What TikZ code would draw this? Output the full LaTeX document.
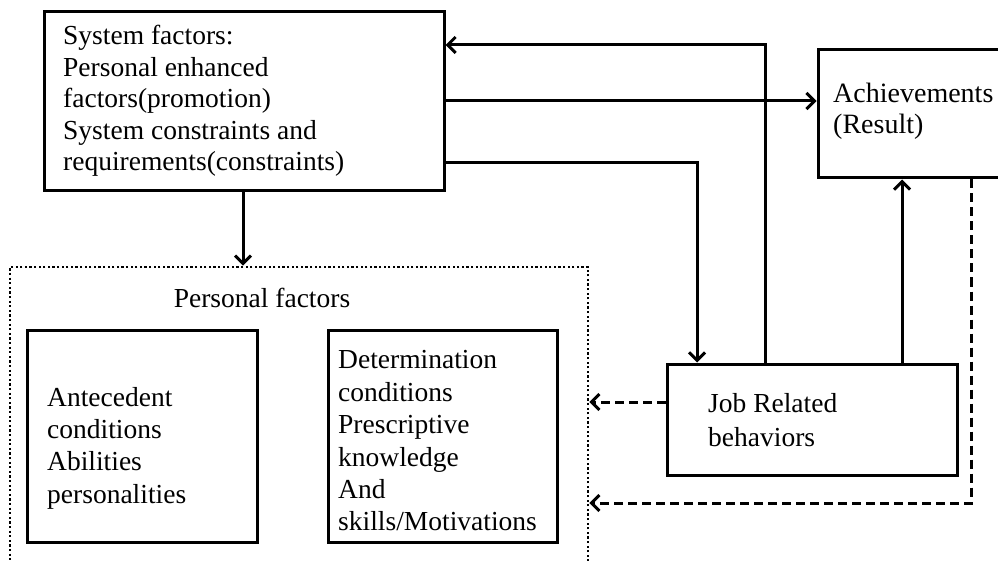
\documentclass[tikz,border=0pt]{standalone}
\usepackage{fontspec}
\setmainfont{Liberation Serif}
\usetikzlibrary{arrows.meta}
\begin{document}
\begin{tikzpicture}[x=1pt,y=-1pt,
  box/.style={draw, line width=3pt, rectangle, inner sep=0pt},
  groupbox/.style={draw, line width=2.6pt, rectangle, inner sep=0pt, dash pattern=on 2.2pt off 2.4pt},
  txt/.style={font=\fontsize{27.5}{31.5}\selectfont, align=left, inner sep=0pt, anchor=west},
  flow/.style={line width=3pt, -{Straight Barb[length=8pt,width=16pt]}},
  back/.style={flow, dash pattern=on 9pt off 5pt}]
\useasboundingbox (0,0) rectangle (998,561);

% boxes
\node[box, minimum width=400pt, minimum height=179pt] (sys) at (244,101.5) {};
\node[box, minimum width=184pt, minimum height=128pt] (ach) at (910,114) {};
\node[groupbox, minimum width=578pt, minimum height=333pt] (pf) at (299,433.5) {};
\node[box, minimum width=230pt, minimum height=212pt] (ante) at (142,436) {};
\node[box, minimum width=229pt, minimum height=212pt] (det) at (442.5,436) {};
\node[box, minimum width=290pt, minimum height=111pt] (job) at (812,419.5) {};

% texts
\node[txt] (sys-t) at (63,101) {System factors:\\Personal enhanced\\factors(promotion)\\System constraints and\\requirements(constraints)};
\node[txt, font=\fontsize{28}{31}\selectfont] (ach-t) at (833,111) {Achievements\\(Result)};
\node[txt, anchor=center] (pf-t) at (262,298) {Personal factors};
\node[txt, font=\fontsize{27.5}{32.3}\selectfont] (ante-t) at (47,448) {Antecedent\\conditions\\Abilities\\personalities};
\node[txt, font=\fontsize{27.5}{32.4}\selectfont] (det-t) at (338,441) {Determination\\conditions\\Prescriptive\\knowledge\\And\\skills/Motivations};
\node[txt, font=\fontsize{27.5}{34}\selectfont] (job-t) at (708,420) {Job Related\\behaviors};

% routing points
\coordinate (fb) at (765,45);
\coordinate (sa) at (0,101);
\coordinate (sj) at (697,163);
\coordinate (ja) at (902,0);
\coordinate (pfx) at (243,0);
\coordinate (jd) at (0,402);
\coordinate (ad) at (971,503);

% connectors
\draw[flow] (job.north -| fb) -- (fb) -- (sys.east |- fb);
\draw[flow] (sys.east |- sa) -- (ach.west |- sa);
\draw[flow] (sys.east |- sj) -- (sj) -- (job.north -| sj);
\draw[flow] (job.north -| ja) -- (ach.south -| ja);
\draw[flow] (sys.south -| pfx) -- (pf.north -| pfx);
\draw[back] (job.west |- jd) -- (pf.east |- jd);
\draw[back] (ach.south -| ad) -- (ad) -- (pf.east |- ad);
\end{tikzpicture}
\end{document}
